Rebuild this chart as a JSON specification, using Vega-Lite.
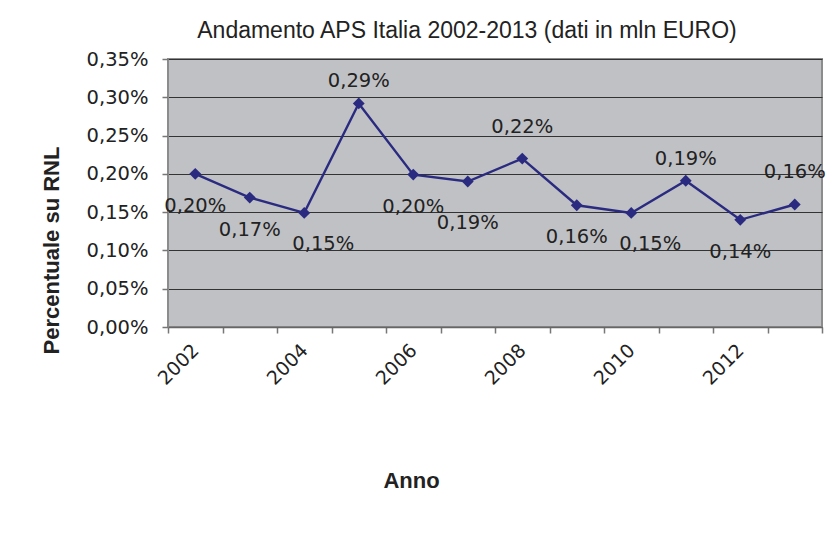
{
  "$schema": "https://vega.github.io/schema/vega-lite/v6.json",
  "width": 654,
  "height": 268,
  "autosize": {"type": "none"},
  "padding": {"left": 168, "top": 59, "right": 12, "bottom": 223},
  "background": "#ffffff",
  "title": {
    "text": "Andamento APS Italia 2002-2013 (dati in mln EURO)",
    "frame": "group",
    "anchor": "middle",
    "dx": -28,
    "offset": 6,
    "font": "Liberation Sans",
    "fontSize": 23,
    "fontWeight": "normal",
    "color": "#222222"
  },
  "config": {
    "locale": {"number": {"decimal": ",", "thousands": ".", "grouping": [3], "currency": ["€", ""]}},
    "view": {"fill": "#c0c1c5", "stroke": "#8c8c8c", "strokeWidth": 2},
    "text": {"font": "DejaVu Sans"}
  },
  "data": {
    "values": [
      {"anno": "2002", "valore": 0.00200},
      {"anno": "2003", "valore": 0.00169},
      {"anno": "2004", "valore": 0.00149},
      {"anno": "2005", "valore": 0.00292},
      {"anno": "2006", "valore": 0.00199},
      {"anno": "2007", "valore": 0.00190},
      {"anno": "2008", "valore": 0.00220},
      {"anno": "2009", "valore": 0.00159},
      {"anno": "2010", "valore": 0.00149},
      {"anno": "2011", "valore": 0.00191},
      {"anno": "2012", "valore": 0.00140},
      {"anno": "2013", "valore": 0.00160}
    ]
  },
  "encoding": {
    "x": {
      "field": "anno",
      "type": "ordinal",
      "scale": {"paddingInner": 0, "paddingOuter": 0},
      "axis": {
        "title": "Anno",
        "titleFont": "Liberation Sans",
        "titleFontSize": 22,
        "titleFontWeight": "bold",
        "titleColor": "#222222",
        "titleX": 243,
        "titleY": 153,
        "titleBaseline": "middle",
        "titleAlign": "center",
        "labelExpr": "toNumber(datum.value) % 2 == 0 ? datum.value : ''",
        "labelAngle": -45,
        "labelAlign": "right",
        "labelBaseline": "middle",
        "labelOverlap": false,
        "labelPadding": 14,
        "labelFont": "DejaVu Sans",
        "labelFontSize": 19,
        "labelColor": "#222222",
        "tickBand": "extent",
        "tickSize": 6,
        "tickColor": "#777777",
        "tickWidth": 1.5,
        "domainColor": "#666666",
        "domainWidth": 1.5,
        "grid": false
      }
    },
    "y": {
      "field": "valore",
      "type": "quantitative",
      "scale": {"domain": [0, 0.0035], "nice": false},
      "axis": {
        "title": "Percentuale su RNL",
        "titleFont": "Liberation Sans",
        "titleFontSize": 22,
        "titleFontWeight": "bold",
        "titleColor": "#222222",
        "titleX": -117,
        "titleY": 191,
        "titleAngle": -90,
        "titleAlign": "center",
        "titleBaseline": "middle",
        "values": [0, 0.0005, 0.001, 0.0015, 0.002, 0.0025, 0.003, 0.0035],
        "format": ".2%",
        "labelFont": "DejaVu Sans",
        "labelFontSize": 19.5,
        "labelColor": "#222222",
        "labelPadding": 14,
        "tickSize": 6,
        "tickColor": "#777777",
        "tickWidth": 1.5,
        "domainColor": "#8c8c8c",
        "grid": true,
        "gridColor": "#333333",
        "gridWidth": 1.2
      }
    }
  },
  "layer": [
    {
      "mark": {"type": "line", "color": "#2a2b80", "strokeWidth": 2.4,
        "point": {"shape": "diamond", "size": 140, "filled": true, "color": "#2a2b80", "opacity": 1}}
    },
    {
      "transform": [{"filter": {"field": "anno", "oneOf": ["2002", "2003", "2006", "2009", "2012"]}}],
      "mark": {"type": "text", "dy": 32, "fontSize": 19.5, "color": "#222222", "baseline": "middle"},
      "encoding": {"text": {"field": "valore", "type": "quantitative", "format": ".2%"}}
    },
    {
      "transform": [{"filter": {"field": "anno", "oneOf": ["2007"]}}],
      "mark": {"type": "text", "dy": 41, "fontSize": 19.5, "color": "#222222", "baseline": "middle"},
      "encoding": {"text": {"field": "valore", "type": "quantitative", "format": ".2%"}}
    },
    {
      "transform": [{"filter": {"field": "anno", "oneOf": ["2004", "2010"]}}],
      "mark": {"type": "text", "dx": 19, "dy": 31, "fontSize": 19.5, "color": "#222222", "baseline": "middle"},
      "encoding": {"text": {"field": "valore", "type": "quantitative", "format": ".2%"}}
    },
    {
      "transform": [{"filter": {"field": "anno", "oneOf": ["2005", "2011"]}}],
      "mark": {"type": "text", "dy": -22, "fontSize": 19.5, "color": "#222222", "baseline": "middle"},
      "encoding": {"text": {"field": "valore", "type": "quantitative", "format": ".2%"}}
    },
    {
      "transform": [{"filter": {"field": "anno", "oneOf": ["2008", "2013"]}}],
      "mark": {"type": "text", "dy": -32, "fontSize": 19.5, "color": "#222222", "baseline": "middle"},
      "encoding": {"text": {"field": "valore", "type": "quantitative", "format": ".2%"}}
    }
  ]
}
